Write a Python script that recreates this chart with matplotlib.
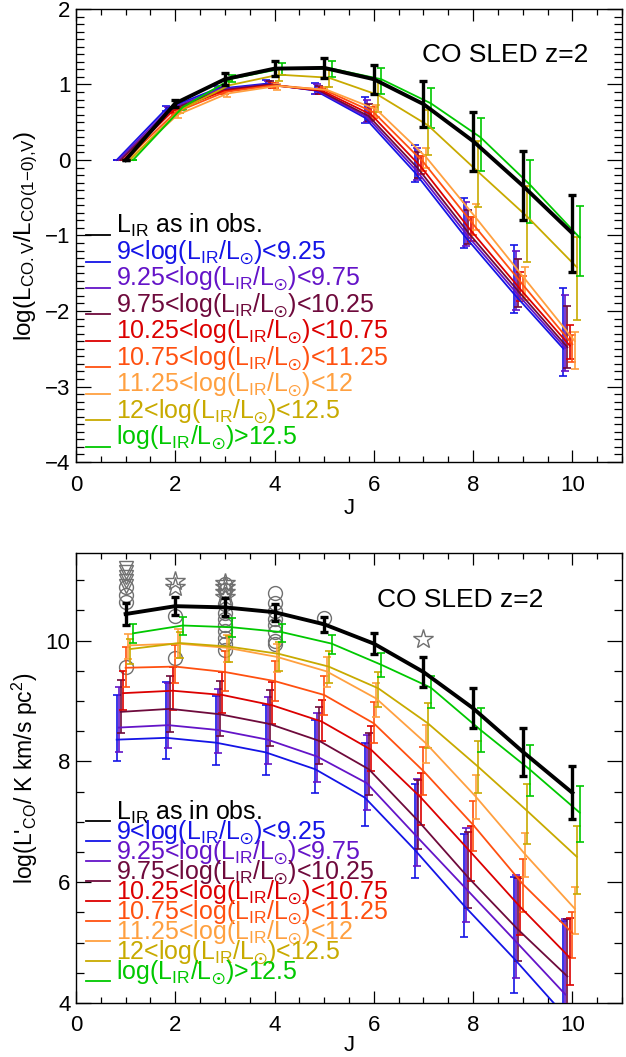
import numpy as np
import matplotlib
matplotlib.use("Agg")
import matplotlib.pyplot as plt
from matplotlib.ticker import MultipleLocator

plt.rcParams['font.family'] = ['Liberation Sans', 'DejaVu Sans']
plt.rcParams['mathtext.fontset'] = 'custom'
plt.rcParams['mathtext.rm'] = 'Liberation Sans'
plt.rcParams['mathtext.it'] = 'Liberation Sans:italic'
plt.rcParams['mathtext.bf'] = 'Liberation Sans:bold'
plt.rcParams['mathtext.fallback'] = 'stix'

# CO rotational level
J = np.arange(1, 11)

# series order: observed L_IR, then the L_IR bins from faint to bright
SUN = 'L$_{\u2609}$'
labels = ['L$_{\\rm IR}$ as in obs.',
          '9<log(L$_{\\rm IR}$/' + SUN + ')<9.25',
          '9.25<log(L$_{\\rm IR}$/' + SUN + ')<9.75',
          '9.75<log(L$_{\\rm IR}$/' + SUN + ')<10.25',
          '10.25<log(L$_{\\rm IR}$/' + SUN + ')<10.75',
          '10.75<log(L$_{\\rm IR}$/' + SUN + ')<11.25',
          '11.25<log(L$_{\\rm IR}$/' + SUN + ')<12',
          '12<log(L$_{\\rm IR}$/' + SUN + ')<12.5',
          'log(L$_{\\rm IR}$/' + SUN + ')>12.5']
colors = ['#000000', '#1414e6', '#6414c8', '#6e0a3c', '#dc0000',
          '#ff5010', '#ffa040', '#c8aa00', '#00c800']
x_shift = [0.0, -0.18, -0.14, -0.10, -0.05, 0.0, 0.05, 0.09, 0.15]

# top panel: log(L_CO,J / L_CO(1-0)) per series, with lower / upper errors
top_val = [
    [0, 0.75, 1.07, 1.21, 1.22, 1.07, 0.74, 0.25, -0.34, -0.97],
    [0, 0.68, 0.94, 1.01, 0.92, 0.56, -0.16, -1.00, -1.77, -2.50],
    [0, 0.67, 0.93, 1.00, 0.92, 0.57, -0.14, -0.98, -1.75, -2.49],
    [0, 0.66, 0.92, 1.00, 0.92, 0.58, -0.12, -0.96, -1.73, -2.48],
    [0, 0.65, 0.91, 0.99, 0.92, 0.60, -0.09, -0.93, -1.71, -2.46],
    [0, 0.63, 0.90, 0.99, 0.93, 0.63, -0.03, -0.85, -1.65, -2.44],
    [0, 0.60, 0.88, 0.98, 0.93, 0.67, 0.04, -0.76, -1.58, -2.40],
    [0, 0.66, 0.99, 1.13, 1.09, 0.86, 0.46, -0.15, -0.75, -1.42],
    [0, 0.70, 1.08, 1.21, 1.21, 1.07, 0.75, 0.30, -0.33, -1.03],
]
top_lo = [
    [0, 0.05, 0.08, 0.10, 0.13, 0.19, 0.30, 0.39, 0.46, 0.51],
    [0, 0.03, 0.03, 0.03, 0.05, 0.07, 0.13, 0.17, 0.26, 0.36],
    [0, 0.03, 0.03, 0.03, 0.05, 0.07, 0.12, 0.16, 0.24, 0.30],
    [0, 0.03, 0.03, 0.03, 0.04, 0.07, 0.12, 0.15, 0.22, 0.27],
    [0, 0.03, 0.03, 0.03, 0.04, 0.07, 0.10, 0.14, 0.16, 0.17],
    [0, 0.03, 0.03, 0.03, 0.04, 0.08, 0.12, 0.14, 0.20, 0.24],
    [0, 0.04, 0.05, 0.05, 0.06, 0.10, 0.15, 0.17, 0.28, 0.37],
    [0, 0.04, 0.06, 0.08, 0.12, 0.22, 0.40, 0.47, 0.60, 0.70],
    [0, 0.04, 0.05, 0.08, 0.11, 0.20, 0.33, 0.45, 0.50, 0.50],
]
top_hi = [
    [0, 0.05, 0.08, 0.10, 0.13, 0.19, 0.30, 0.39, 0.46, 0.51],
    [0, 0.03, 0.04, 0.05, 0.10, 0.28, 0.36, 0.50, 0.65, 0.80],
    [0, 0.03, 0.04, 0.04, 0.08, 0.22, 0.30, 0.42, 0.55, 0.70],
    [0, 0.03, 0.03, 0.04, 0.06, 0.16, 0.22, 0.30, 0.42, 0.55],
    [0, 0.03, 0.03, 0.03, 0.04, 0.10, 0.14, 0.18, 0.22, 0.28],
    [0, 0.03, 0.03, 0.03, 0.04, 0.07, 0.08, 0.10, 0.12, 0.12],
    [0, 0.03, 0.03, 0.03, 0.04, 0.06, 0.12, 0.18, 0.16, 0.12],
    [0, 0.04, 0.05, 0.07, 0.10, 0.18, 0.20, 0.40, 0.40, 0.40],
    [0, 0.04, 0.05, 0.08, 0.10, 0.15, 0.21, 0.25, 0.33, 0.42],
]

# bottom panel: log(L'_CO) per series, with lower / upper errors
bot_val = [
    [10.44, 10.57, 10.55, 10.47, 10.27, 9.95, 9.48, 8.88, 8.16, 7.48],
    [8.36, 8.39, 8.31, 8.15, 7.87, 7.40, 6.54, 5.61, 4.74, 3.82],
    [8.56, 8.60, 8.52, 8.36, 8.08, 7.64, 6.76, 5.89, 5.02, 4.14],
    [8.82, 8.87, 8.78, 8.62, 8.34, 7.87, 7.01, 6.08, 5.22, 4.44],
    [9.13, 9.17, 9.10, 8.93, 8.66, 8.19, 7.40, 6.50, 5.59, 4.75],
    [9.55, 9.57, 9.48, 9.33, 9.10, 8.63, 7.84, 6.95, 5.97, 5.16],
    [9.92, 9.95, 9.88, 9.73, 9.49, 9.04, 8.30, 7.42, 6.46, 5.56],
    [9.86, 9.96, 9.90, 9.78, 9.57, 9.21, 8.63, 7.92, 7.18, 6.42],
    [10.12, 10.25, 10.22, 10.14, 9.95, 9.60, 9.22, 8.52, 7.86, 7.15],
]
bot_lo = [
    [0.18, 0.15, 0.15, 0.14, 0.12, 0.17, 0.25, 0.33, 0.40, 0.44],
    [0.36, 0.35, 0.37, 0.38, 0.39, 0.47, 0.47, 0.52, 0.58, 0.60],
    [0.40, 0.38, 0.38, 0.40, 0.42, 0.45, 0.50, 0.55, 0.60, 0.62],
    [0.35, 0.38, 0.36, 0.36, 0.38, 0.42, 0.46, 0.50, 0.52, 0.50],
    [0.28, 0.32, 0.30, 0.31, 0.33, 0.35, 0.45, 0.48, 0.46, 0.46],
    [0.31, 0.28, 0.32, 0.33, 0.33, 0.33, 0.40, 0.44, 0.47, 0.42],
    [0.22, 0.24, 0.24, 0.25, 0.26, 0.30, 0.33, 0.38, 0.38, 0.41],
    [0.24, 0.24, 0.25, 0.28, 0.27, 0.31, 0.41, 0.44, 0.55, 0.61],
    [0.16, 0.15, 0.16, 0.17, 0.18, 0.20, 0.34, 0.36, 0.44, 0.49],
]
bot_hi = [
    [0.18, 0.15, 0.15, 0.14, 0.12, 0.17, 0.25, 0.33, 0.40, 0.44],
    [0.74, 0.92, 0.77, 0.78, 0.81, 0.91, 1.08, 1.18, 1.34, 1.54],
    [0.67, 0.70, 0.68, 0.70, 0.72, 0.80, 0.95, 1.00, 1.10, 1.25],
    [0.52, 0.55, 0.55, 0.56, 0.56, 0.60, 0.68, 0.75, 0.85, 0.95],
    [0.37, 0.39, 0.38, 0.38, 0.36, 0.40, 0.40, 0.43, 0.50, 0.66],
    [0.35, 0.35, 0.34, 0.34, 0.32, 0.36, 0.40, 0.40, 0.42, 0.34],
    [0.19, 0.25, 0.22, 0.22, 0.24, 0.26, 0.30, 0.36, 0.36, 0.36],
    [0.17, 0.18, 0.18, 0.20, 0.26, 0.27, 0.33, 0.42, 0.45, 0.51],
    [0.16, 0.14, 0.15, 0.14, 0.15, 0.19, 0.20, 0.36, 0.41, 0.45],
]

# observed galaxies (bottom panel)
obs_circ_j = [1, 1, 1, 1, 2, 2, 3, 3, 3, 3, 3, 3, 3, 3, 3, 3,
              4, 4, 4, 4, 4, 4, 4, 4, 5]
obs_circ_y = [10.88, 10.76, 10.64, 9.57, 10.41, 9.72,
              10.93, 10.84, 10.60, 10.46, 10.36, 10.26, 10.16, 10.05, 9.95, 9.85,
              10.79, 10.63, 10.49, 10.36, 10.25, 10.14, 10.00, 9.95, 10.38]
obs_star_j = [2, 2, 3, 3, 3, 3, 7]
obs_star_y = [10.98, 10.88, 10.95, 10.88, 10.80, 10.72, 10.02]
obs_tri_j = [1, 1, 1, 1, 1]
obs_tri_y = [11.20, 11.13, 11.06, 10.98, 10.90]

fig = plt.figure(figsize=(6.26, 10.57), dpi=100)
ax_top = fig.add_axes([0.1214, 0.5629, 0.8722, 0.4286])
ax_bot = fig.add_axes([0.1214, 0.0511, 0.8722, 0.4257])


def draw_sleds(ax, val, lo, hi):
    order = list(range(1, 9)) + [0]
    for i in order:
        x = J + x_shift[i]
        if i == 0:
            lw, elw, cs, ct, zo = 2.8, 2.4, 3.0, 2.4, 5
        else:
            lw, elw, cs, ct, zo = 1.3, 1.2, 2.6, 1.2, 3
        ax.errorbar(x, val[i], yerr=[lo[i], hi[i]], color=colors[i], lw=lw,
                    elinewidth=elw, capsize=cs, capthick=ct, zorder=zo)


def style_axes(ax, ymin, ymax, ymaj, ymin_step, legend_y, line_gap):
    ax.set_xlim(0, 11)
    ax.set_ylim(ymin, ymax)
    ax.xaxis.set_major_locator(MultipleLocator(2))
    ax.xaxis.set_minor_locator(MultipleLocator(0.5))
    ax.yaxis.set_major_locator(MultipleLocator(ymaj))
    ax.yaxis.set_minor_locator(MultipleLocator(ymin_step))
    ax.tick_params(which='both', direction='in', top=True, right=True,
                   labelsize=16, width=0.9)
    ax.tick_params(axis='x', which='major', length=8.5, pad=9)
    ax.tick_params(axis='x', which='minor', length=4.3)
    ax.tick_params(axis='y', which='major', length=11, pad=4)
    ax.tick_params(axis='y', which='minor', length=6)
    for sp in ax.spines.values():
        sp.set_linewidth(1.0)
    ax.set_xlabel('J', fontsize=16)
    # hand-drawn legend: short line plus coloured label
    for k, lab in enumerate(labels):
        yy = legend_y - k * line_gap
        ax.plot([0.018, 0.062], [yy, yy], color=colors[k], lw=1.3,
                transform=ax.transAxes, clip_on=False)
        ax.text(0.073, yy + 0.004, lab, color=colors[k], fontsize=18,
                transform=ax.transAxes, va='baseline', ha='left')


draw_sleds(ax_top, top_val, top_lo, top_hi)
style_axes(ax_top, -4, 2, 1, 0.1, 0.501, 0.0584)
ax_top.set_ylabel('log(L$_{\\rm CO{.}V}$/L$_{\\rm CO(1{-}0){,}V}$)',
                  fontsize=17.5)
ax_top.yaxis.set_label_coords(-0.066, 0.5)
ax_top.xaxis.set_label_coords(0.5, -0.079)
ax_top.text(0.786, 0.898, 'CO SLED z=2', fontsize=19, ha='center',
            va='center', transform=ax_top.transAxes)

gray = '#707070'
ax_bot.plot(obs_circ_j, obs_circ_y, ls='none', marker='o', ms=10,
            mfc='none', mec=gray, mew=1.0, zorder=2)
ax_bot.plot(obs_star_j, obs_star_y, ls='none', marker='*', ms=15,
            mfc='none', mec=gray, mew=1.0, zorder=2)
ax_bot.plot(obs_tri_j, obs_tri_y, ls='none', marker='v', ms=10,
            mfc='none', mec=gray, mew=1.0, zorder=2)
draw_sleds(ax_bot, bot_val, bot_lo, bot_hi)
style_axes(ax_bot, 4, 11.45, 2, 0.5, 0.404, 0.0445)
ax_bot.set_ylabel("log(L'$_{\\rm CO}$/ K km/s pc$^2$)", fontsize=16.5)
ax_bot.yaxis.set_label_coords(-0.066, 0.5)
ax_bot.xaxis.set_label_coords(0.5, -0.071)
ax_bot.text(0.703, 0.896, 'CO SLED z=2', fontsize=19, ha='center',
            va='center', transform=ax_bot.transAxes)

fig.savefig('out.png', dpi=100)
